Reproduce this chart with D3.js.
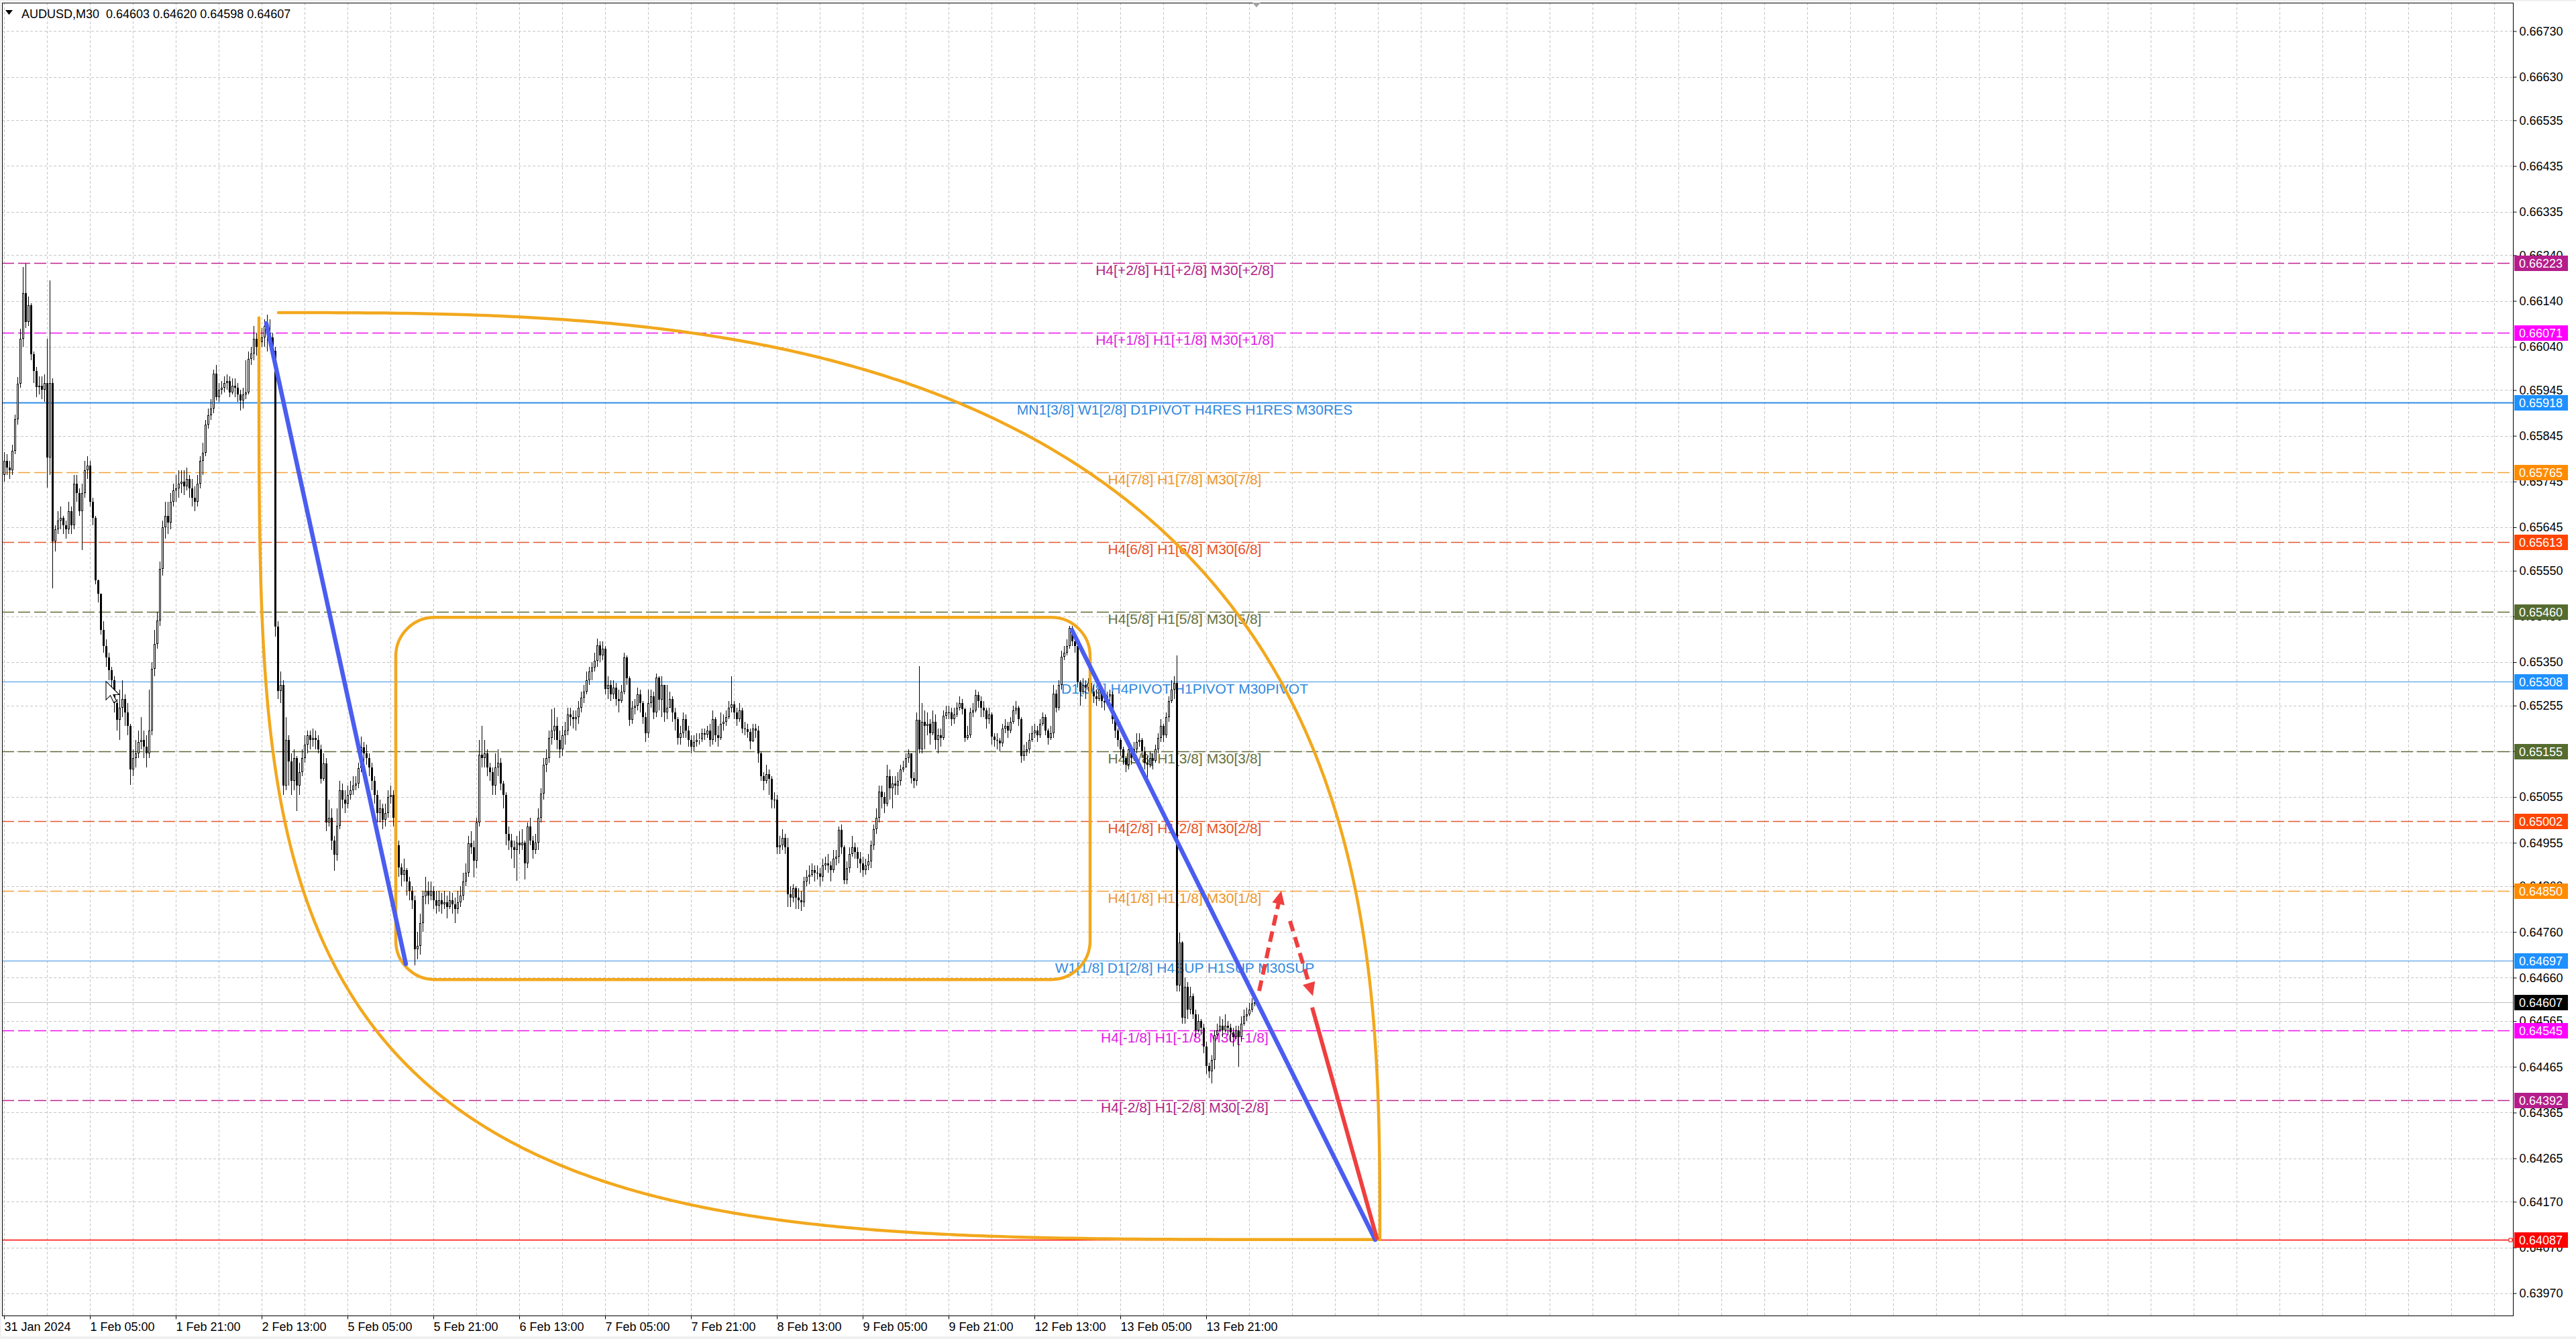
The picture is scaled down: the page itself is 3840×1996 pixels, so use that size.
<!DOCTYPE html>
<html><head><meta charset="utf-8"><title>AUDUSD,M30</title>
<script src="https://cdn.jsdelivr.net/npm/d3@7"></script>
<style>
html,body{margin:0;padding:0;background:#fff;overflow:hidden}
svg{display:block;font-family:"Liberation Sans",Arial,sans-serif}
</style></head><body>
<svg id="chart" width="3840" height="1996"></svg>
<script>
// ---------------- data ----------------
const symbol = "AUDUSD";
const timeframe = "M30";
const dateLabels = ["31 Jan 2024","1 Feb 05:00","1 Feb 21:00","2 Feb 13:00","5 Feb 05:00","5 Feb 21:00","6 Feb 13:00","7 Feb 05:00","7 Feb 21:00","8 Feb 13:00","9 Feb 05:00","9 Feb 21:00","12 Feb 13:00","13 Feb 05:00","13 Feb 21:00"];
const barsPerDateLabel = 32;
const barsPerGrid = 16;
const priceTicks = [0.66730,0.66630,0.66535,0.66435,0.66335,0.66240,0.66140,0.66040,0.65945,0.65845,0.65745,0.65645,0.65550,0.65450,0.65350,0.65255,0.65155,0.65055,0.64955,0.64860,0.64760,0.64660,0.64565,0.64465,0.64365,0.64265,0.64170,0.64070,0.63970];
const priceMin = 0.639212, priceMax = 0.667922;
const barMin = -0.75, barMax = 935;

// candles in 1e-5 price points; open of each bar = previous close
const firstOpen = 65760;
const closes = [
65790,65775,65770,65812,65881,65959,66057,66157,66094,66130,
66023,65987,65952,65955,65945,65960,65798,65960,65614,65640,
65660,65665,65650,65640,65680,65650,65740,65720,65680,65720,
65770,65780,65700,65666,65529,65500,65420,65386,65360,65332,
65310,65260,65224,65250,65270,65240,65210,65115,65140,65150,
65175,65180,65165,65150,65200,65335,65390,65441,65554,65645,
65670,65655,65700,65726,65730,65740,65745,65735,65750,65730,
65710,65700,65740,65790,65808,65869,65890,65905,65981,65930,
65945,65950,65960,65965,65940,65955,65950,65935,65922,65935,
65940,66013,66025,66057,66040,66050,66060,66085,66070,66060,
66031,65428,65287,65300,65080,65180,65133,65090,65140,65080,
65110,65140,65170,65190,65180,65185,65180,65160,65095,65128,
65000,65010,64960,64929,64992,65070,65050,65040,65060,65070,
65080,65085,65118,65164,65150,65140,65120,65090,65060,65020,
65030,65005,65020,65055,65060,65010,64950,64901,64885,64895,
64870,64850,64830,64722,64730,64780,64838,64850,64840,64850,
64830,64818,64830,64820,64825,64815,64830,64820,64810,64825,
64840,64870,64890,64954,64945,64916,64999,65148,65140,65150,
65120,65110,65080,65120,65130,65085,65060,64975,64960,64945,
64940,64955,64950,64955,64910,64990,64960,64940,64955,65010,
65063,65126,65140,65184,65200,65210,65180,65160,65190,65200,
65236,65230,65225,65230,65250,65272,65285,65310,65330,65338,
65353,65387,65365,65380,65291,65300,65280,65295,65270,65265,
65285,65360,65315,65224,65250,65255,65280,65260,65230,65194,
65260,65275,65240,65316,65268,65300,65240,65250,65270,65240,
65225,65184,65195,65225,65200,65180,65165,65175,65180,65182,
65195,65192,65200,65180,65225,65190,65185,65215,65220,65230,
65250,65258,65240,65225,65245,65205,65203,65198,65177,65205,
65200,65150,65101,65090,65105,65095,65049,65050,64945,64950,
64965,64945,64843,64835,64855,64835,64830,64825,64870,64880,
64885,64895,64890,64888,64880,64905,64910,64905,64895,64920,
64925,64983,64945,64873,64900,64930,64945,64935,64920,64910,
64895,64905,64915,64950,64985,65010,65067,65055,65040,65100,
65075,65085,65080,65090,65115,65120,65140,65150,65096,65090,
65224,65160,65220,65210,65215,65195,65220,65180,65190,65185,
65233,65240,65240,65225,65235,65250,65260,65248,65185,65190,
65240,65245,65278,65265,65250,65245,65225,65235,65187,65180,
65178,65172,65205,65210,65200,65220,65245,65250,65225,65145,
65155,65160,65180,65195,65200,65190,65215,65230,65200,65185,
65195,65281,65250,65300,65362,65370,65385,65425,65395,65385,
65306,65285,65300,65295,65305,65285,65275,65270,65290,65265,
65262,65275,65280,65225,65200,65180,65160,65140,65125,65160,
65140,65160,65175,65180,65155,65130,65125,65140,65135,65160,
65185,65210,65190,65230,65265,65290,65305,64643,64737,64573,
64640,64590,64620,64580,64545,64565,64550,64510,64467,64455,
64480,64535,64545,64555,64545,64555,64550,64540,64530,64545,
64530,64560,64575,64580,64590,64603,64607];
const highs = [
65810,65805,65790,65825,65891,65973,66079,66214,66221,66150,
66135,66030,65995,65975,65975,65980,66057,66185,65970,65650,
65680,65690,65670,65660,65700,65690,65760,65760,65730,65740,
65790,65800,65790,65710,65670,65530,65500,65440,65400,65370,
65340,65320,65270,65290,65310,65280,65260,65215,65160,65180,
65200,65230,65200,65190,65290,65350,65420,65460,65570,65660,
65700,65700,65720,65740,65760,65770,65770,65770,65775,65760,
65750,65735,65760,65800,65830,65880,65905,65925,65990,66000,
65960,65965,65975,65980,65975,65970,65970,65960,65945,65950,
66010,66030,66040,66085,66070,66060,66080,66100,66110,66100,
66070,66040,65440,65330,65310,65230,65190,65150,65160,65145,
65130,65160,65190,65200,65200,65205,65200,65190,65170,65150,
65140,65050,65030,64970,65030,65090,65085,65070,65080,65090,
65100,65100,65130,65187,65175,65170,65150,65130,65100,65070,
65050,65040,65040,65070,65080,65070,65020,64960,64910,64920,
64900,64880,64860,64840,64760,64800,64850,64880,64870,64870,
64860,64850,64850,64845,64850,64840,64850,64845,64835,64850,
64860,64890,64910,64970,64980,64960,65010,65180,65211,65180,
65160,65130,65120,65150,65160,65140,65090,65065,64990,64975,
64960,64970,64980,64985,64960,65000,65010,64970,64975,65030,
65075,65140,65160,65200,65247,65250,65230,65200,65210,65220,
65250,65250,65245,65245,65265,65285,65300,65330,65340,65350,
65370,65401,65395,65395,65385,65320,65310,65310,65305,65290,
65300,65370,65365,65320,65265,65270,65295,65290,65265,65240,
65290,65290,65285,65325,65320,65320,65300,65300,65285,65275,
65250,65230,65210,65240,65235,65210,65190,65190,65195,65195,
65205,65205,65210,65215,65245,65230,65210,65240,65235,65245,
65265,65319,65265,65250,65260,65250,65220,65215,65205,65215,
65215,65210,65155,65110,65125,65115,65100,65065,65060,64970,
64985,64975,64965,64860,64865,64860,64855,64850,64880,64895,
64905,64910,64905,64905,64900,64920,64925,64930,64915,64940,
64940,64990,64995,64950,64915,64945,64970,64955,64945,64935,
64925,64920,64930,64960,64995,65030,65080,65080,65065,65125,
65115,65100,65100,65110,65125,65135,65150,65160,65150,65110,
65240,65341,65260,65245,65240,65225,65245,65235,65205,65205,
65245,65255,65255,65250,65250,65262,65275,65270,65250,65210,
65250,65260,65290,65285,65275,65265,65250,65250,65240,65195,
65195,65185,65215,65225,65220,65230,65255,65265,65255,65230,
65170,65175,65195,65210,65215,65210,65225,65240,65235,65205,
65210,65300,65290,65310,65375,65385,65400,65430,65429,65405,
65390,65310,65315,65310,65315,65310,65300,65290,65300,65295,
65275,65285,65290,65285,65230,65205,65185,65165,65145,65170,
65170,65175,65195,65195,65185,65165,65145,65155,65150,65170,
65195,65225,65215,65240,65275,65310,65320,65365,64759,64740,
64660,64650,64640,64625,64590,64580,64570,64560,64520,64475,
64490,64545,64560,64575,64570,64580,64565,64560,64550,64555,
64555,64575,64590,64595,64605,64615,64620];
const lows = [
65745,65760,65750,65760,65805,65870,65950,66040,66080,66085,
66010,65960,65930,65935,65925,65920,65732,65760,65511,65592,
65630,65640,65630,65620,65630,65630,65640,65700,65670,65595,
65710,65750,65690,65650,65520,65480,65410,65370,65340,65310,
65290,65240,65200,65180,65230,65210,65190,65082,65100,65120,
65140,65160,65140,65120,65140,65190,65320,65380,65430,65540,
65620,65630,65640,65690,65700,65710,65720,65715,65725,65710,
65690,65680,65690,65730,65760,65800,65860,65880,65895,65922,
65920,65935,65940,65945,65930,65935,65930,65920,65900,65905,
65925,65935,66000,66010,66020,66020,66040,66040,66030,66040,
66010,65406,65270,65260,65060,65070,65080,65060,65070,65024,
65060,65100,65130,65150,65160,65165,65160,65150,65085,65090,
64980,64990,64940,64894,64916,64985,65030,65020,65030,65050,
65060,65070,65075,65110,65130,65125,65100,65070,65040,65000,
65000,64985,64990,65010,65040,64990,64930,64880,64860,64870,
64840,64830,64810,64687,64700,64710,64760,64820,64820,64830,
64810,64800,64805,64800,64810,64790,64810,64800,64780,64800,
64815,64830,64860,64880,64930,64879,64900,64990,65120,65120,
65100,65090,65060,65060,65100,65070,65030,64950,64940,64920,
64900,64872,64930,64940,64875,64900,64950,64920,64930,64940,
65000,65050,65110,65130,65170,65180,65160,65140,65145,65170,
65190,65210,65205,65200,65215,65240,65260,65280,65300,65310,
65330,65340,65350,65355,65280,65270,65265,65270,65255,65240,
65260,65280,65300,65210,65215,65235,65245,65240,65215,65175,
65185,65250,65225,65230,65245,65230,65220,65225,65250,65220,
65200,65170,65170,65185,65185,65165,65150,65155,65165,65170,
65175,65180,65185,65165,65170,65175,65165,65180,65200,65210,
65225,65240,65225,65210,65220,65195,65190,65185,65160,65175,
65185,65130,65090,65070,65085,65060,65030,65030,64930,64930,
64940,64930,64815,64815,64825,64810,64810,64806,64815,64860,
64865,64880,64870,64875,64860,64870,64895,64890,64870,64890,
64905,64910,64930,64865,64865,64890,64925,64920,64900,64890,
64880,64885,64895,64900,64940,64975,65000,65030,65020,65035,
65050,65030,65060,65060,65080,65110,65120,65130,65085,65075,
65080,65150,65150,65160,65190,65170,65190,65160,65150,65165,
65180,65225,65225,65210,65215,65230,65245,65235,65175,65180,
65185,65230,65240,65250,65230,65230,65205,65215,65170,65165,
65160,65155,65165,65195,65185,65195,65215,65235,65210,65130,
65135,65145,65150,65175,65185,65175,65185,65210,65190,65170,
65180,65185,65240,65245,65290,65355,65365,65380,65385,65370,
65295,65255,65280,65270,65285,65270,65260,65255,65265,65250,
65245,65260,65265,65215,65185,65165,65145,65125,65110,65115,
65125,65135,65150,65165,65140,65115,65095,65120,65115,65130,
65150,65175,65175,65185,65220,65260,65270,64630,64630,64560,
64560,64570,64580,64570,64530,64540,64535,64495,64450,64440,
64429,64460,64525,64540,64530,64540,64535,64520,64510,64525,
64465,64520,64555,64565,64575,64585,64598];

// Murrey / pivot levels
const levelPrices = [0.66223,0.66071,0.65918,0.65765,0.65613,0.65460,0.65308,0.65155,0.65002,0.64850,0.64697,0.64545,0.64392,0.64087];
const levelTexts = ["H4[+2/8] H1[+2/8] M30[+2/8]","H4[+1/8] H1[+1/8] M30[+1/8]","MN1[3/8] W1[2/8] D1PIVOT H4RES H1RES M30RES","H4[7/8] H1[7/8] M30[7/8]","H4[6/8] H1[6/8] M30[6/8]","H4[5/8] H1[5/8] M30[5/8]","D1[3/8] H4PIVOT H1PIVOT M30PIVOT","H4[3/8] H1[3/8] M30[3/8]","H4[2/8] H1[2/8] M30[2/8]","H4[1/8] H1[1/8] M30[1/8]","W1[1/8] D1[2/8] H4SUP H1SUP M30SUP","H4[-1/8] H1[-1/8] M30[-1/8]","H4[-2/8] H1[-2/8] M30[-2/8]",""];
const levelKinds = ["m2","m1","blueThick","o","or","ol","blue","ol","or","o","blue","m1","m2","red"];
const bidPrice = 0.64607;
const levelLabelBar = 440;

// drawn objects, anchored as [bar, price]
const trendLine1 = [[97.75,0.66091],[149.75,0.64690]];
const trendLine2 = [[398,0.65420],[511,0.64087]];
const arrowUp = [[467.75,0.64631],[476,0.64850]];
const arrowDown = [[479.25,0.64784],[487.75,0.64620]];
const arrowMain = [[487.5,0.64595],[511.75,0.64087]];
const rangeBox = [[146,0.65448],[404.75,0.64656]];
const arcTop = {center:[102.25,0.64087], radius:[410.5,0.020274], power:2.85, dir:[1,1]};
const arcBottom = {center:[512.75,0.66103], radius:[417.75,0.020157], power:4, dir:[-1,-1]};
const cursorAt = [38,0.65308];

// ---------------- styles ----------------
const kindStyle = {
  m2:{line:"#C0208F",text:"#B01F87",box:"#B41E8A",dash:"18,6",w:1.3},
  m1:{line:"#EE10EE",text:"#E01BE0",box:"#FF00FF",dash:"18,6",w:1.3},
  blueThick:{line:"#2F8EE8",text:"#3189DE",box:"#1E90FF",dash:null,w:2},
  blue:{line:"#3A92E6",text:"#3189DE",box:"#1E90FF",dash:null,w:1.1},
  o:{line:"#F4A03A",text:"#EE952A",box:"#FF8C00",dash:"18,6",w:1.3},
  or:{line:"#E4572E",text:"#E8501E",box:"#FF4500",dash:"18,6",w:1.3},
  ol:{line:"#5E6A34",text:"#66703E",box:"#556B2F",dash:"18,6",w:1.3},
  red:{line:"#FF0000",text:"#FF0000",box:"#FF0000",dash:null,w:1.5}
};
const ORANGE = "#F2A81D", BLUE = "#4A5DF0", RED = "#EF3F3F";

// ---------------- chart ----------------
const W = 3840, H = 1996;
const plotL = 3, plotT = 4, plotR = 3746, plotB = 1961;
const svg = d3.select("#chart");
const x = d3.scaleLinear().domain([barMin, barMax]).range([plotL, plotR]);
const y = d3.scaleLinear().domain([priceMin, priceMax]).range([plotB, plotT]);
const P = v => v / 100000;

svg.append("rect").attr("width", W).attr("height", H).attr("fill", "#f0f0f0");
svg.append("rect").attr("x", 2).attr("y", 2).attr("width", W - 2).attr("height", H - 6).attr("fill", "#fff");

const defs = svg.append("defs");
defs.append("clipPath").attr("id", "plotClip").append("rect")
  .attr("x", plotL).attr("y", plotT).attr("width", plotR - plotL).attr("height", plotB - plotT);

// grid
const grid = svg.append("g").attr("stroke", "#c6c6c6").attr("stroke-dasharray", "4,3").attr("stroke-width", 1).attr("shape-rendering", "crispEdges");
grid.selectAll("line.h").data(priceTicks).join("line").attr("class", "h")
  .attr("x1", plotL).attr("x2", plotR)
  .attr("y1", d => Math.round(y(d)) + 0.5).attr("y2", d => Math.round(y(d)) + 0.5);
const gridBars = d3.range(0, barMax, barsPerGrid);
grid.selectAll("line.v").data(gridBars).join("line").attr("class", "v")
  .attr("y1", plotT).attr("y2", plotB)
  .attr("x1", d => Math.round(x(d)) + 0.5).attr("x2", d => Math.round(x(d)) + 0.5);

// levels
const levels = levelPrices.map((p, i) => ({p, text: levelTexts[i], st: kindStyle[levelKinds[i]]}));
svg.append("g").selectAll("line").data(levels).join("line")
  .attr("x1", plotL).attr("x2", plotR)
  .attr("y1", d => Math.round(y(d.p)) + 0.5).attr("y2", d => Math.round(y(d.p)) + 0.5)
  .attr("stroke", d => d.st.line).attr("stroke-width", d => d.st.w)
  .attr("stroke-dasharray", d => d.st.dash);
// bid line
svg.append("line").attr("x1", plotL).attr("x2", plotR)
  .attr("y1", Math.round(y(bidPrice)) + 0.5).attr("y2", Math.round(y(bidPrice)) + 0.5)
  .attr("stroke", "#c0c0c0").attr("stroke-width", 1);
// small square on red target line
svg.append("rect").attr("x", plotR - 6).attr("y", Math.round(y(levelPrices[13])) - 2)
  .attr("width", 5).attr("height", 5).attr("fill", "#fff").attr("stroke", "#FF0000").attr("stroke-width", 1);
// level texts
svg.append("g").selectAll("text").data(levels.filter(d => d.text)).join("text")
  .attr("x", x(levelLabelBar)).attr("y", d => y(d.p) + 18)
  .attr("text-anchor", "middle").attr("font-size", 21)
  .attr("fill", d => d.st.text).text(d => d.text);

// candles
const bars = closes.map((c, i) => {
  const o = i === 0 ? firstOpen : closes[i - 1];
  return {i, o: P(o), c: P(c), h: P(highs[i]), l: P(lows[i])};
});
const cg = svg.append("g").attr("clip-path", "url(#plotClip)").attr("shape-rendering", "crispEdges");
bars.forEach(b => {
  const cx = Math.round(x(b.i));
  const top = Math.round(y(Math.max(b.o, b.c)));
  const bot = Math.round(y(Math.min(b.o, b.c)));
  const yh = Math.round(y(Math.max(b.h, b.o, b.c)));
  const yl = Math.round(y(Math.min(b.l, b.o, b.c)));
  if (yh < top) cg.append("line").attr("x1", cx + 0.5).attr("x2", cx + 0.5).attr("y1", yh).attr("y2", top).attr("stroke", "#000");
  if (yl > bot) cg.append("line").attr("x1", cx + 0.5).attr("x2", cx + 0.5).attr("y1", bot).attr("y2", yl).attr("stroke", "#000");
  if (bot - top < 1) {
    cg.append("rect").attr("x", cx - 1).attr("y", top).attr("width", 3).attr("height", 1).attr("fill", "#000");
  } else if (b.c >= b.o) {
    cg.append("rect").attr("x", cx - 0.5).attr("y", top + 0.5).attr("width", 2).attr("height", Math.max(bot - top - 1, 0))
      .attr("fill", "#fff").attr("stroke", "#000").attr("stroke-width", 1);
  } else {
    cg.append("rect").attr("x", cx - 1).attr("y", top).attr("width", 3).attr("height", bot - top).attr("fill", "#000");
  }
});

// drawn objects
const og = svg.append("g").attr("clip-path", "url(#plotClip)").attr("fill", "none");
function superArc(a, steps) {
  return d3.range(steps + 1).map(k => {
    const t = k / steps * Math.PI / 2;
    const ct = Math.max(Math.cos(t), 0), st = Math.max(Math.sin(t), 0);
    return [a.center[0] + a.dir[0] * a.radius[0] * Math.pow(ct, 2 / a.power),
            a.center[1] + a.dir[1] * a.radius[1] * Math.pow(st, 2 / a.power)];
  });
}
const lineGen = d3.line().x(d => x(d[0])).y(d => y(d[1]));
og.append("path").attr("d", lineGen(superArc(arcTop, 400))).attr("stroke", ORANGE).attr("stroke-width", 4.5).attr("stroke-linecap", "round");
og.append("path").attr("d", lineGen(superArc(arcBottom, 400))).attr("stroke", ORANGE).attr("stroke-width", 4.5).attr("stroke-linecap", "round");
og.append("rect")
  .attr("x", x(rangeBox[0][0])).attr("y", y(rangeBox[0][1]))
  .attr("width", x(rangeBox[1][0]) - x(rangeBox[0][0])).attr("height", y(rangeBox[1][1]) - y(rangeBox[0][1]))
  .attr("rx", 58).attr("ry", 58).attr("stroke", ORANGE).attr("stroke-width", 4.5);
[trendLine1, trendLine2].forEach(t => {
  og.append("line").attr("x1", x(t[0][0])).attr("y1", y(t[0][1])).attr("x2", x(t[1][0])).attr("y2", y(t[1][1]))
    .attr("stroke", BLUE).attr("stroke-width", 6.5).attr("stroke-linecap", "round");
});
function arrow(seg, dashed, head) {
  const x1 = x(seg[0][0]), y1 = y(seg[0][1]), x2 = x(seg[1][0]), y2 = y(seg[1][1]);
  const len = Math.hypot(x2 - x1, y2 - y1), ux = (x2 - x1) / len, uy = (y2 - y1) / len;
  const hl = head ? 20 : 0;
  og.append("line").attr("x1", x1).attr("y1", y1).attr("x2", x2 - ux * hl * 0.8).attr("y2", y2 - uy * hl * 0.8)
    .attr("stroke", RED).attr("stroke-width", 6).attr("stroke-dasharray", dashed ? "16,9" : null);
  if (head) {
    const bx = x2 - ux * hl, by = y2 - uy * hl, px = -uy * 9.5, py = ux * 9.5;
    og.append("path").attr("d", `M${x2},${y2}L${bx + px},${by + py}L${bx - px},${by - py}Z`).attr("fill", RED);
  }
}
arrow(arrowUp, true, true);
arrow(arrowDown, true, true);
arrow(arrowMain, false, false);

// mouse cursor
const cx0 = x(cursorAt[0]), cy0 = y(cursorAt[1]);
svg.append("path").attr("transform", `translate(${cx0},${cy0}) scale(1.2)`)
  .attr("d", "M0,0L0,23L5.5,17.5L9.5,26L13,24.5L9,16.5L16.5,16.5Z")
  .attr("fill", "#fff").attr("stroke", "#000").attr("stroke-width", 0.9);

// frame
svg.append("rect").attr("x", plotL + 0.5).attr("y", plotT + 0.5).attr("width", plotR - plotL).attr("height", plotB - plotT)
  .attr("fill", "none").attr("stroke", "#000").attr("stroke-width", 1).attr("shape-rendering", "crispEdges");

// price axis
const yAxis = d3.axisRight(y).tickValues(priceTicks).tickSize(5).tickPadding(4).tickFormat(d3.format(".5f"));
const ya = svg.append("g").attr("transform", `translate(${plotR + 0.5},0)`).call(yAxis);
ya.select(".domain").remove();
ya.selectAll("text").attr("font-size", 18).attr("font-family", '"Liberation Sans",Arial,sans-serif').attr("fill", "#000");
ya.selectAll("line").attr("stroke", "#000");

// time axis
const xAxis = d3.axisBottom(x).tickValues(dateLabels.map((d, k) => k * barsPerDateLabel)).tickSize(5).tickPadding(5)
  .tickFormat((d, k) => dateLabels[k]);
const xa = svg.append("g").attr("transform", `translate(0,${plotB + 0.5})`).call(xAxis);
xa.select(".domain").remove();
xa.selectAll("text").attr("font-size", 18).attr("font-family", '"Liberation Sans",Arial,sans-serif').attr("fill", "#000").attr("text-anchor", "start").attr("x", 0);
xa.selectAll("line").attr("stroke", "#000");

// price boxes on the axis
const boxes = levels.map(d => ({p: d.p, fill: d.st.box})).concat([{p: bidPrice, fill: "#000"}]);
const bg = svg.append("g");
bg.selectAll("rect").data(boxes).join("rect")
  .attr("x", plotR + 2).attr("y", d => Math.round(y(d.p)) - 11).attr("width", 80).attr("height", 23).attr("fill", d => d.fill);
bg.selectAll("text").data(boxes).join("text")
  .attr("x", plotR + 9).attr("y", d => Math.round(y(d.p)) + 1).attr("dy", "0.35em")
  .attr("font-size", 18).attr("fill", "#fff").text(d => d3.format(".5f")(d.p));

// header
const last = bars[bars.length - 1];
svg.append("path").attr("d", "M8,15L19,15L13.5,22Z").attr("fill", "#000");
svg.append("text").attr("x", 32).attr("y", 27).attr("font-size", 18).attr("fill", "#000")
  .style("white-space", "pre")
  .text(`${symbol},${timeframe}  ${[last.o, last.h, last.l, last.c].map(d3.format(".5f")).join(" ")}`);

// chart shift marker
const sx = x(bars.length - 0.25);
svg.append("path").attr("d", `M${sx - 6},${plotT}L${sx + 6},${plotT}L${sx},${plotT + 7}Z`).attr("fill", "#a0a0a0");
</script>
</body></html>
